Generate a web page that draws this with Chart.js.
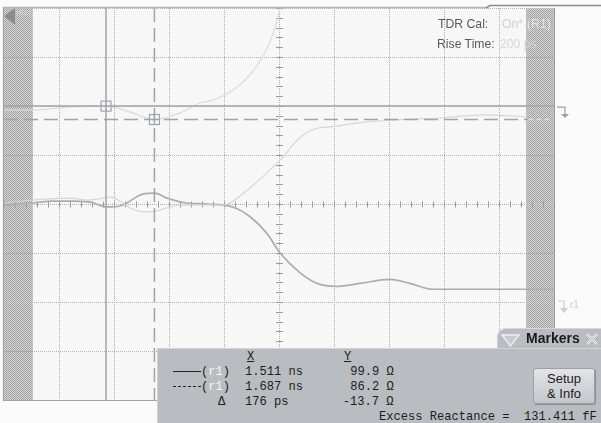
<!DOCTYPE html>
<html><head><meta charset="utf-8">
<script src="https://cdn.jsdelivr.net/npm/chart.js@4.4.1/dist/chart.umd.min.js"></script>
<style>
html,body{margin:0;padding:0;background:#fafafa;}
#wrap{position:relative;width:601px;height:423px;overflow:hidden;font-family:"Liberation Sans",Arial,sans-serif;background:#fafafa;}
#c{position:absolute;left:0;top:0;}
.t{position:absolute;white-space:pre;line-height:16px;}
.s{font-size:13px;transform:scaleX(0.94);transform-origin:left center;}
.m{font-family:"Liberation Mono","DejaVu Sans Mono",monospace;font-size:13px;color:#1c1c1c;transform:scaleX(0.93);transform-origin:left center;}
.mr{font-family:"Liberation Mono","DejaVu Sans Mono",monospace;font-size:13px;color:#1c1c1c;transform:scaleX(0.93);transform-origin:right center;text-align:right;}
#panel{position:absolute;left:157px;top:348px;width:444px;height:75px;background:#b9bcc1;border-top:1px solid #d2d4d8;border-left:1px solid #cfd1d5;box-sizing:border-box;}
#tab{position:absolute;left:497px;top:328px;width:104px;height:22px;background:#b9bcc1;border-top-left-radius:9px;border-top:1px solid #d5d7da;border-left:1px solid #d0d2d5;box-sizing:border-box;}
#btn{position:absolute;left:533px;top:368px;width:62px;height:36px;box-sizing:border-box;background:linear-gradient(#e2e4e7,#c3c6cb);border:1px solid #9c9fa4;border-radius:3px;box-shadow:1px 1px 0 #8c8f94;text-align:center;font-size:13px;line-height:15px;color:#1c1c1c;padding-top:2px;}
</style></head>
<body>
<div id="wrap">
<canvas id="c" width="601" height="423"></canvas>
<div class="t s" style="left:438px;top:16px;color:#5a5a5a;">TDR Cal:</div>
<div class="t s" style="left:502px;top:16px;color:#d2d2d2;">On*</div>
<div class="t s" style="left:527px;top:16px;color:#e4e4e4;">(R1)</div>
<div class="t s" style="left:437px;top:36px;color:#5a5a5a;">Rise Time:</div>
<div class="t s" style="left:500px;top:36px;color:#d6d6d6;">200 ps</div>
<div class="t" style="left:570px;top:297px;font-size:10px;color:#d0d0d0;">r1</div>

<div id="tab">
  <svg style="position:absolute;left:3px;top:4px" width="20" height="14"><path d="M1 2 L18 2 L9.5 13 Z" fill="#c6c9cd" stroke="#eef0f2" stroke-width="1.4"/></svg>
  <div class="t" style="left:28px;top:0px;line-height:18px;font-size:14px;font-weight:bold;color:#1a1a1a;">Markers</div>
  <svg style="position:absolute;left:87px;top:3px" width="14" height="14"><path d="M2 2 L12 12 M12 2 L2 12" stroke="#f2f3f5" stroke-width="2.2"/><path d="M2 2 L12 12 M12 2 L2 12" stroke="#9a9da2" stroke-width="0.6"/></svg>
</div>
<div id="panel"></div>
<div class="t m" style="left:247px;top:349px;text-decoration:underline;">X</div>
<div class="t m" style="left:344px;top:349px;text-decoration:underline;">Y</div>

<div style="position:absolute;left:173px;top:371px;width:28px;height:0;border-top:1.5px solid #222;"></div>
<div style="position:absolute;left:173px;top:386px;width:28px;height:0;border-top:1.5px dashed #222;"></div>
<div class="t m" style="left:201px;top:364px;">(<span style="color:#f4f4f4">r1</span>)</div>
<div class="t m" style="left:201px;top:379px;">(<span style="color:#f4f4f4">r1</span>)</div>
<div class="t m" style="left:218px;top:394px;">Δ</div>
<div class="t m" id="x1" style="left:245px;top:364px;"></div>
<div class="t m" id="x2" style="left:245px;top:379px;"></div>
<div class="t m" id="x3" style="left:245px;top:394px;"></div>
<div class="t mr" id="y1" style="right:207px;top:364px;"></div>
<div class="t mr" id="y2" style="right:207px;top:379px;"></div>
<div class="t mr" id="y3" style="right:207px;top:394px;"></div>
<div class="t m" style="left:379px;top:409px;">Excess Reactance =  131.411 fF</div>
<div id="btn">Setup<br>&amp; Info</div>
</div>
<script>
// time axis (ns) and impedance axis (ohm)
const xTicks = [1.14,1.34,1.54,1.74,1.94,2.14,2.34,2.54,2.74,2.94,3.14];
const yTicks = [-200,-150,-100,-50,0,50,100,150,200];

// main (darker) trace
const mainT = [1.140,1.245,1.318,1.380,1.453,1.515,1.562,1.587,1.620,1.645,1.689,1.733,1.805,1.878,1.972,2.035,2.096,2.144,2.216,2.278,2.351,2.435,2.544,2.616,2.700,2.882,3.042,3.140];
const mainV = [-1,1,3,3,2,-3,-2,1,7,10,11,6,1,0,-3,-13,-30,-50,-70,-81,-84,-81,-77,-81,-87,-87,-87,-87];

// light trace rising from centre
const lowT = [1.140,1.245,1.380,1.442,1.500,1.525,1.573,1.598,1.660,1.696,1.733,1.780,1.853,1.936,2.024,2.096,2.155,2.205,2.264,2.336,2.435,2.580,2.736,2.882,3.042];
const lowV = [1,4,6,4,6,7,1,-4,-8,-7,-4,-1,-1,-1,14,32,48,65,76,79,83,86,88,91,89];

// light trace with markers (r1)
const upT = [1.140,1.245,1.380,1.511,1.598,1.687,1.780,1.853,1.900,1.972,2.035,2.082,2.115,2.140,2.160];
const upV = [96,96,99,99.9,94,86.2,93,103,106,116,132,151,171,195,215];

// markers
const markerX = [1.511, 1.687];
const markerY = [99.9, 86.2];
const markerXText = ["1.511 ns","1.687 ns","176 ps"];
const markerYText = ["99.9 Ω","86.2 Ω","-13.7 Ω"];

// shaded (hatched) bands
const shadeLeft = [1.14, 1.245];
const shadeRight = [3.042, 3.14];

['x1','x2','x3'].forEach((id,i)=>document.getElementById(id).textContent=markerXText[i]);
['y1','y2','y3'].forEach((id,i)=>document.getElementById(id).textContent=markerYText[i]);

const pts = (t,v)=>t.map((x,i)=>({x:x,y:v[i]}));

const pc = document.createElement('canvas'); pc.width=2; pc.height=2;
const pcx = pc.getContext('2d');
pcx.fillStyle='#d6d6d6'; pcx.fillRect(0,0,2,2);
pcx.fillStyle='#a2a2a2'; pcx.fillRect(0,0,1,1); pcx.fillRect(1,1,1,1);

const deco = {
  id:'deco',
  beforeDraw(c){
    const {ctx, chartArea:a, scales:{x:xs}} = c;
    ctx.save();
    ctx.fillStyle='#f7f7f7';
    ctx.fillRect(a.left,a.top,a.width,a.height);
    const pat = ctx.createPattern(pc,'repeat');
    ctx.fillStyle=pat;
    [shadeLeft, shadeRight].forEach(s=>{
      const x0 = xs.getPixelForValue(s[0]), x1 = xs.getPixelForValue(s[1]);
      ctx.fillRect(x0-1,a.top,x1-x0+1,a.height);
    });
    ctx.restore();
  },
  beforeDatasetsDraw(c){
    const {ctx, chartArea:a, scales:{x:xs,y:ys}} = c;
    ctx.save();
    ctx.strokeStyle='#9a9a9a'; ctx.lineWidth=1;
    const cx = Math.round(xs.getPixelForValue(2.14))+0.5;
    const cy = Math.round(ys.getPixelForValue(0))+0.5;
    ctx.beginPath();
    for(let i=0;i<=50;i++){
      const px = Math.round(xs.getPixelForValue(1.14+i*0.04))+0.5;
      ctx.moveTo(px,cy-3); ctx.lineTo(px,cy+3);
    }
    for(let i=0;i<=40;i++){
      const py = Math.round(ys.getPixelForValue(-200+i*10))+0.5;
      ctx.moveTo(cx-3.5,py); ctx.lineTo(cx+3.5,py);
    }
    ctx.stroke();
    ctx.restore();
  },
  afterDatasetsDraw(c){
    const {ctx, chartArea:a, scales:{x:xs,y:ys}} = c;
    ctx.save();
    const mx0 = xs.getPixelForValue(markerX[0]), my0 = ys.getPixelForValue(markerY[0]);
    const mx1 = xs.getPixelForValue(markerX[1]), my1 = ys.getPixelForValue(markerY[1]);
    const hx = xs.getPixelForValue(shadeRight[0]);
    ctx.strokeStyle='#a0a4aa'; ctx.lineWidth=1.5;
    ctx.beginPath();
    ctx.moveTo(mx0,a.top); ctx.lineTo(mx0,a.bottom);
    ctx.moveTo(a.left-1,my0); ctx.lineTo(a.right+1,my0);
    ctx.stroke();
    ctx.setLineDash([14,6]);
    ctx.beginPath();
    ctx.moveTo(mx1,a.top); ctx.lineTo(mx1,a.bottom);
    ctx.moveTo(a.left,my1); ctx.lineTo(hx,my1);
    ctx.stroke();
    ctx.strokeStyle='#e2e2e2'; ctx.setLineDash([4,4]);
    ctx.beginPath(); ctx.moveTo(hx+2,my1); ctx.lineTo(a.right-4,my1); ctx.stroke();
    ctx.setLineDash([]);
    ctx.strokeStyle='#a0a4aa';
    ctx.lineWidth=1.2;
    ctx.strokeRect(mx0-5,my0-5,10,10);
    ctx.strokeRect(mx1-5,my1-5,10,10);
    ctx.beginPath(); ctx.moveTo(mx1-5,my1); ctx.lineTo(mx1+5,my1); ctx.moveTo(mx1,my1-5); ctx.lineTo(mx1,my1+5); ctx.stroke();

    // frame
    ctx.strokeStyle='#a3a3a3'; ctx.lineWidth=1.2;
    ctx.beginPath();
    ctx.moveTo(a.left-0.5,a.top-1); ctx.lineTo(a.left-0.5,a.bottom+0.5); ctx.lineTo(a.right+1,a.bottom+0.5);
    ctx.stroke();
    ctx.strokeStyle='#9c9c9c'; ctx.lineWidth=1;
    ctx.beginPath(); ctx.moveTo(a.right+0.5,a.top); ctx.lineTo(a.right+0.5,a.bottom); ctx.stroke();
    ctx.strokeStyle='#b4b4b4'; ctx.lineWidth=1.5;
    ctx.beginPath(); ctx.moveTo(a.left-1,a.top-0.5); ctx.lineTo(487,a.top-0.5); ctx.stroke();
    ctx.strokeStyle='#8c8c8c';
    ctx.beginPath(); ctx.moveTo(486,a.top); ctx.lineTo(490,5.5); ctx.lineTo(601,5.5); ctx.stroke();

    // right-side reference icons
    ctx.strokeStyle='#a0a0a0'; ctx.fillStyle='#a0a0a0'; ctx.lineWidth=1.2;
    ctx.beginPath(); ctx.moveTo(557,my0+1); ctx.lineTo(565,my0+1); ctx.lineTo(565,my0+9); ctx.stroke();
    ctx.beginPath(); ctx.moveTo(561,my0+8); ctx.lineTo(569,my0+8); ctx.lineTo(565,my0+12); ctx.closePath(); ctx.fill();
    ctx.strokeStyle='#cfcfcf'; ctx.fillStyle='#cfcfcf';
    ctx.beginPath(); ctx.moveTo(558,301); ctx.lineTo(564,301); ctx.lineTo(564,309); ctx.stroke();
    ctx.beginPath(); ctx.moveTo(560,308); ctx.lineTo(568,308); ctx.lineTo(564,313); ctx.closePath(); ctx.fill();

    // top-left channel icon
    ctx.fillStyle='#8c8c8c';
    ctx.beginPath(); ctx.moveTo(4,16); ctx.lineTo(15,8); ctx.lineTo(15,25); ctx.closePath(); ctx.fill();
    ctx.fillStyle='#d8d8d8'; ctx.font='7px "DejaVu Sans"';
    ctx.fillText('(R1)',16,15); ctx.fillText('····',17,22);
    ctx.restore();
  }
};

const gridOpts = {color:'#b0b0b0', lineWidth:1, drawTicks:false};
new Chart(document.getElementById('c'), {
  type:'line',
  data:{datasets:[
    {data:pts(upT,upV), borderColor:'#dadada', borderWidth:1.2, pointRadius:0, cubicInterpolationMode:'monotone'},
    {data:pts(lowT,lowV), borderColor:'#d6d6d6', borderWidth:1.2, pointRadius:0, cubicInterpolationMode:'monotone'},
    {data:pts(mainT,mainV), borderColor:'#a8adb6', borderWidth:1.7, pointRadius:0, cubicInterpolationMode:'monotone'}
  ]},
  options:{
    responsive:false, animation:false, events:[],
    layout:{padding:{left:4,top:8,right:47,bottom:23}},
    plugins:{legend:{display:false}, tooltip:{enabled:false}},
    scales:{
      x:{type:'linear', min:1.14, max:3.14, grid:gridOpts, border:{display:false, dash:[1,1]},
         ticks:{display:false}, afterBuildTicks:s=>{s.ticks=xTicks.map(v=>({value:v}));}},
      y:{type:'linear', min:-200, max:200, grid:gridOpts, border:{display:false, dash:[1,1]},
         ticks:{display:false}, afterBuildTicks:s=>{s.ticks=yTicks.map(v=>({value:v}));}}
    }
  },
  plugins:[deco]
});
</script>
</body></html>
